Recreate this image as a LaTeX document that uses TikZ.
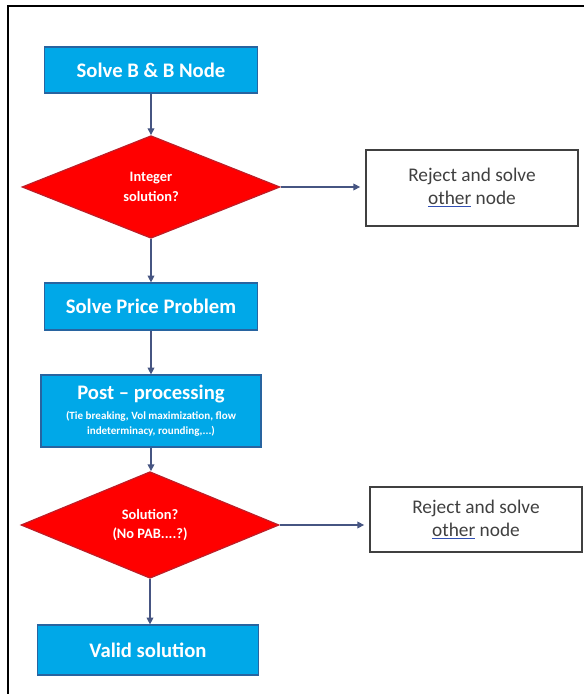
\documentclass[tikz,border=0pt]{standalone}
\usepackage{fontspec}
\setmainfont{Carlito}
\usetikzlibrary{shapes.geometric,arrows.meta}
\definecolor{boxblue}{RGB}{0,168,232}
\definecolor{boxedge}{RGB}{40,100,160}
\definecolor{decred}{RGB}{255,0,0}
\definecolor{decedge}{RGB}{190,30,40}
\definecolor{flowline}{RGB}{70,85,130}
\definecolor{textgray}{RGB}{64,64,64}
\definecolor{linkblue}{RGB}{50,80,180}
\newcommand{\subfont}{\fontsize{8.3}{11}\selectfont}
\tikzset{
  stepbox/.style={rectangle,draw=boxedge,fill=boxblue,line width=0.9pt,text=white,
    font=\bfseries\fontsize{15.5}{17}\selectfont,align=center,inner sep=0pt},
  decision/.style={diamond,draw=decedge,fill=decred,line width=0.9pt,text=white,
    font=\bfseries\fontsize{10.8}{14.5}\selectfont,align=center,inner sep=0pt,
    minimum width=193.5pt,minimum height=77pt},
  rejectbox/.style={rectangle,draw=textgray,line width=0.8pt,text=textgray,
    font=\fontsize{14.5}{17}\selectfont,align=center,inner sep=0pt,
    minimum width=159pt},
  flow/.style={draw=flowline,line width=0.9pt,-{Triangle[length=5pt,width=5pt]}}
}
\begin{document}
\begin{tikzpicture}[x=0.75pt,y=0.75pt]
  \useasboundingbox (0,0) rectangle (584,694);
  % frame
  \draw[line width=1.5pt] (8,0) -- (8,688) -- (584,688);

  % main column
  \node[stepbox,minimum width=159.75pt,minimum height=34.5pt] (bbnode) at (151,624) {Solve B \& B Node};
  \node[decision] (intsol) at (151,507) {Integer\\solution?};
  \node[stepbox,minimum width=159.75pt,minimum height=35.25pt] (price) at (151,387.5) {Solve Price Problem};
  \node[stepbox,minimum width=165pt,minimum height=54pt] (post) at (151,283)
    {Post -- processing\\[-2pt]
     \subfont (Tie breaking, Vol maximization, flow\\[-6pt]\subfont indeterminacy, rounding,...)};
  \node[decision] (valsol) at (150,169) {Solution?\\(No PAB....?)};
  \node[stepbox,minimum width=165.75pt,minimum height=37.5pt] (valid) at (148,44) {Valid solution};

  % reject boxes
  \node[rejectbox,minimum height=57pt] (reject1) at (472,506)
    {Reject and solve\\{\color{linkblue}\underline{\textcolor{textgray}{other}}} node};
  \node[rejectbox,minimum height=48.75pt] (reject2) at (476,174.5)
    {Reject and solve\\{\color{linkblue}\underline{\textcolor{textgray}{other}}} node};

  % connectors
  \draw[flow] (bbnode.south) -- (bbnode.south |- intsol.north);
  \draw[flow] (intsol.south) -- (intsol.south |- price.north);
  \draw[flow] (price.south) -- (price.south |- post.north);
  \draw[flow] (post.south) -- (post.south |- valsol.north);
  \draw[flow] (valsol.south) -- (valsol.south |- valid.north);
  \draw[flow,shorten >=4pt] (intsol.east) -- (intsol.east -| reject1.west);
  \draw[flow,shorten >=4pt] (valsol.east) -- (valsol.east -| reject2.west);
\end{tikzpicture}
\end{document}
